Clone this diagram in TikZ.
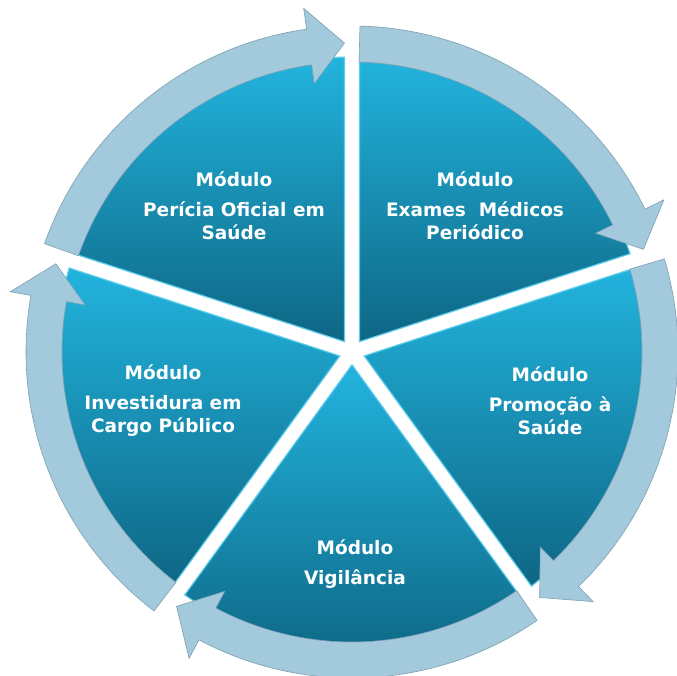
\documentclass[tikz,border=0pt]{standalone}
\usepackage{fontspec}
\setmainfont{DejaVu Sans}
\definecolor{ringblue}{RGB}{163,201,220}
\definecolor{ringedge}{RGB}{125,160,178}
\definecolor{segtop}{RGB}{34,180,222}
\definecolor{segbot}{RGB}{14,102,132}
\definecolor{segedge}{RGB}{95,205,235}

\begin{document}
\begin{tikzpicture}[x=1pt,y=1pt,
    segment/.style={top color=segtop, bottom color=segbot, draw=segedge, line width=1.2pt},
    ringarrow/.style={fill=ringblue, draw=ringedge, line width=0.6pt},
    modtext/.style={text=white, font=\bfseries\fontsize{18.5}{23}\selectfont, align=center, inner sep=0pt}]
    \useasboundingbox (-352,-323) rectangle (325,352);
    \fill[white] (-352,-323) rectangle (325,352);

    % the five pie pieces
    \foreach \a in {90,18,-54,-126,162} {
        \shade[segment] (\a-36:12.8) -- (\a-1.46:295) arc[start angle=\a-1.46, end angle=\a-70.54, radius=295] -- cycle;
    }

    % the ring of arrows, clockwise
    \foreach \a in {162,90,18,-54,-126} {
        \filldraw[ringarrow] (\a-1.4:326) arc[start angle=\a-1.4, end angle=\a-64, radius=326]
            -- (\a-64:347) -- (\a-70.6:309) -- (\a-64:271) -- (\a-64:290)
            arc[start angle=\a-64, end angle=\a-1.4, radius=290] -- cycle;
    }

    \node[modtext] (m1) at (-118,146) {Módulo\\[7pt]Perícia Oficial em\\Saúde};
    \node[modtext] (m2) at (123,146) {Módulo\\[7pt]Exames~ Médicos\\Periódico};
    \node[modtext] (m3) at (198,-49) {Módulo\\[7pt]Promoção à\\Saúde};
    \node[modtext] (m4) at (3,-212) {Módulo\\[7pt]Vigilância};
    \node[modtext] (m5) at (-189,-49) {Módulo\\[7pt]Investidura em\\Cargo Público};
\end{tikzpicture}
\end{document}
